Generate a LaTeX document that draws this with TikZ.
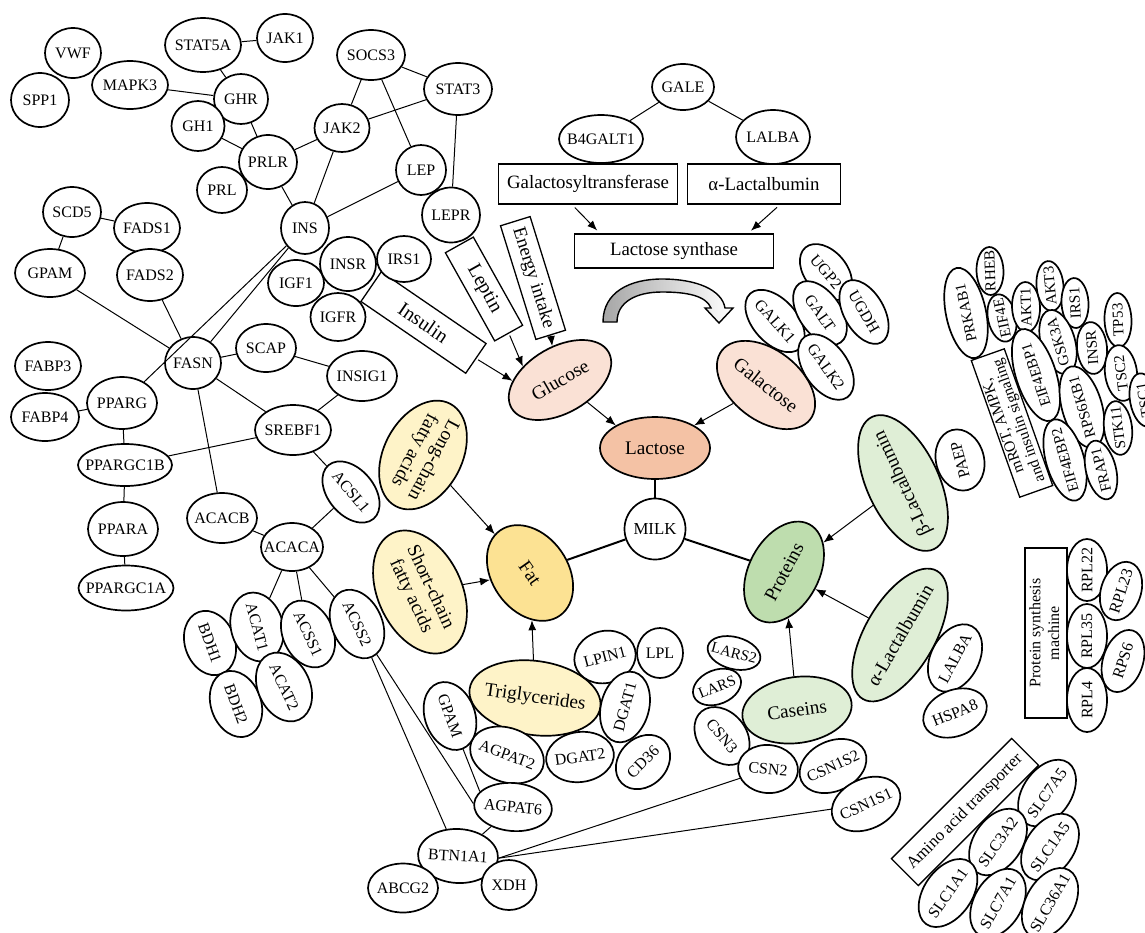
\documentclass[tikz,border=0pt]{standalone}
\usepackage{fontspec}
\setmainfont{Liberation Serif}
\usetikzlibrary{shapes.geometric,arrows.meta}

\definecolor{glc}{HTML}{FAE1D5}
\definecolor{lacc}{HTML}{F4C2A5}
\definecolor{fatc}{HTML}{FCE293}
\definecolor{fac}{HTML}{FEF3C8}
\definecolor{prc}{HTML}{BEDDAE}
\definecolor{prlt}{HTML}{DFEED6}

\tikzset{
  gene/.style={ellipse, draw, line width=0.85pt, fill=white, inner sep=0pt,
    font=\fontsize{8}{9.4}\selectfont},
  big/.style={gene, font=\fontsize{9.6}{10.6}\selectfont},
  small/.style={font=\fontsize{7.6}{9}\selectfont},
  lbl/.style={rectangle, draw, line width=0.65pt, fill=white, inner sep=0pt,
    font=\fontsize{9.4}{11}\selectfont},
  link/.style={line width=0.5pt},
  milklink/.style={line width=1pt},
  arr/.style={line width=0.5pt, -{Latex[length=5pt,width=4pt]}},
}

% ellipse node: [options]{name}{x,y}{semi-axis a}{semi-axis b}{angle}{text}
\newcommand\gnode[7][]{\node[gene,minimum width=#4pt,minimum height=#5pt,rotate=#6,#1] (#2) at (#3) {\makebox[0pt]{#7}};}
% framed label: [options]{name}{x,y}{half width}{half height}{angle}{text}
\newcommand\bxnode[7][]{\node[lbl,minimum width=#4pt,minimum height=#5pt,rotate=#6,#1] (#2) at (#3) {\makebox[0pt]{#7}};}
\newcommand\twoline[1]{\begin{tabular}{@{}c@{}}#1\end{tabular}}

\begin{document}
\begin{tikzpicture}[x=0.5pt,y=-0.5pt]
\useasboundingbox (0,0) rectangle (1145,932);

% ---------- framed labels
\bxnode{galtbox}{588,184}{89.5}{20}{0}{Galactosyltransferase}
\bxnode{alacbox}{764,184}{76.5}{20}{0}{α-Lactalbumin}
\bxnode{lsyn}{674,251}{99.5}{17}{0}{Lactose synthase}
\bxnode[font=\fontsize{10}{12}\selectfont]{insbox}{423.5,322.5}{63.5}{18}{-34.4}{Insulin}
\bxnode[font=\fontsize{10}{12}\selectfont]{lepbox}{484,289}{50.5}{16}{-60.8}{Leptin}
\bxnode{enbox}{533,278}{59.5}{15.5}{-72.7}{Energy intake}
\bxnode[font=\fontsize{8}{9.4}\selectfont]{psmbox}{1046,633}{85}{21}{90}{\twoline{Protein synthesis\\machine}}
\bxnode[font=\fontsize{8.4}{10}\selectfont]{aabox}{965,812}{85}{19}{45}{Amino acid transporter}

% ---------- hormone / receptor network
\gnode{vwf}{73,53}{28}{25}{0}{VWF}
\gnode{spp1}{40,100}{29}{27}{0}{SPP1}
\gnode{stat5a}{203,45}{38}{27}{0}{STAT5A}
\gnode{jak1}{285,38}{28}{24}{0}{JAK1}
\gnode{mapk3}{130,85}{38}{24}{0}{MAPK3}
\gnode{ghr}{241,99}{27}{25}{0}{GHR}
\gnode{gh1}{198,126}{26.5}{25}{0}{GH1}
\gnode{prlr}{268,162}{29}{27}{0}{PRLR}
\gnode{prl}{222,190}{25}{23}{0}{PRL}
\gnode{socs3}{371,55}{34}{25}{0}{SOCS3}
\gnode{stat3}{458,89}{34}{26}{0}{STAT3}
\gnode{jak2}{342,128}{27.5}{24}{0}{JAK2}
\gnode{lep}{421,170}{25}{25}{0}{LEP}
\gnode{lepr}{451,215}{29}{27.5}{0}{LEPR}
\gnode{ins}{305,228}{24}{26}{0}{INS}
\gnode{igf1}{296,283}{28}{23}{0}{IGF1}
\gnode{igfr}{338,317}{27.5}{24}{0}{IGFR}
\gnode{insr}{348,264}{28}{27}{0}{INSR}
\gnode{irs1}{404,259}{27}{23}{0}{IRS1}

% ---------- lipid metabolism network
\gnode{scd5}{72,212}{29}{25}{0}{SCD5}
\gnode{fads1}{147,228}{33}{25}{0}{FADS1}
\gnode{gpam}{50,273}{35}{24}{0}{GPAM}
\gnode{fads2}{150,275}{33}{26}{0}{FADS2}
\gnode{fasn}{193,363}{28}{26}{0}{FASN}
\gnode{scap}{266,348}{30}{24}{0}{SCAP}
\gnode{insig1}{362,376}{35}{25}{0}{INSIG1}
\gnode{srebf1}{293,430}{38}{25}{0}{SREBF1}
\gnode{fabp3}{48,366}{33}{24}{0}{FABP3}
\gnode{fabp4}{45,417}{34}{24}{0}{FABP4}
\gnode{pparg}{122,403}{35}{26}{0}{PPARG}
\gnode{ppargcib}{125,465}{47}{21}{0}{PPARGC1B}
\gnode{ppara}{123,529}{35}{27}{0}{PPARA}
\gnode{ppargcia}{126,588}{47.5}{22.5}{0}{PPARGC1A}
\gnode{acacb}{222,518}{35}{25}{0}{ACACB}
\gnode{acaca}{292,547}{31}{24}{0}{ACACA}
\gnode{acsl1}{351,492}{35}{23}{-50}{ACSL1}
\gnode{bdh1}{210,643}{33}{25}{-70}{BDH1}
\gnode{acat1}{257,627}{35}{26}{-75}{ACAT1}
\gnode{acss1}{308,634}{35}{25}{-65}{ACSS1}
\gnode{acss2}{357,624}{36}{25}{-65}{ACSS2}
\gnode{bdh2}{236,704}{34}{25}{-70}{BDH2}
\gnode{acat2}{284,687}{36}{26}{-65}{ACAT2}

% ---------- fat
\gnode[big,fill=fac]{longfa}{423,455}{58}{39}{-118}{\twoline{Long-chain\\fatty acids}}
\gnode[big,fill=fac]{shortfa}{420,592}{65}{42}{-65}{\twoline{Short-chain\\fatty acids}}
\gnode[big,fill=fatc]{fat}{530,573}{52}{38}{-55}{Fat}
\gnode[big,fill=fac]{tg}{535,698}{66}{37}{-8}{Triglycerides}
\gnode{lpin1}{605,657}{31}{26}{15}{LPIN1}
\gnode{lpl}{660,653}{23}{25}{0}{LPL}
\gnode{dgat1}{625,707}{36}{24}{75}{DGAT1}
\gnode{cd36}{643,762}{30}{24}{45}{CD36}
\gnode{dgat2}{580,757}{34}{25}{8}{DGAT2}
\gnode{agpat2}{507,755}{38}{27}{-20}{AGPAT2}
\gnode{gpamb}{450,716}{35}{25}{-70}{GPAM}
\gnode{agpat6}{513,807}{39}{24}{-5}{AGPAT6}
\gnode{btn1a1}{458,856}{40}{27}{-3}{BTN1A1}
\gnode{xdh}{509,885}{27.5}{25}{0}{XDH}
\gnode{abcg2}{403,888}{35}{24.5}{0}{ABCG2}

% ---------- lactose
\gnode{gale}{683,87}{31}{23}{0}{GALE}
\gnode{b4galt1}{601,139}{42}{24}{0}{B4GALT1}
\gnode{lalba}{773,137}{37}{27}{0}{LALBA}
\gnode[big,fill=lacc]{lactose}{655,448}{55}{31}{0}{Lactose}
\gnode[font=\fontsize{8.4}{10}\selectfont]{milk}{655,529}{30.5}{30.5}{0}{MILK}
\gnode[big,fill=glc]{glucose}{560,380}{56}{33}{30}{Glucose}
\gnode[big,fill=glc]{galactose}{766,385}{56}{35}{-38}{Galactose}
\gnode{ugp2}{826,272}{32}{21}{-50}{UGP2}
\gnode{galk1}{775,321}{37}{22}{-48}{GALK1}
\gnode{galt}{820,313}{36}{21}{-55}{GALT}
\gnode{ugdh}{864,312}{35}{20}{-60}{UGDH}
\gnode{galk2}{826,367}{37}{22}{-55}{GALK2}

% conversion arrow between glucose and galactose
\draw[line width=0.7pt, left color=black!35, right color=white]
  (603,322) .. controls (603,292) and (630,279) .. (662,279)
  .. controls (697,279) and (722,290) .. (725,308)
  -- (733,308) -- (719,323) -- (705,308) -- (711,308)
  .. controls (706,296) and (688,292) .. (662,292)
  .. controls (636,292) and (617,302) .. (617,322) -- cycle;

% ---------- proteins
\gnode[big,fill=prc]{proteins}{784,572}{54}{35}{62}{Proteins}
\gnode[big,fill=prlt]{caseins}{797,710}{55}{33}{8}{Caseins}
\gnode[big,fill=prlt]{blac}{903,483}{73}{36}{115}{β-Lactalbumin}
\gnode[big,fill=prlt]{alac}{900,635}{74}{35}{60}{α-Lactalbumin}
\gnode{paep}{960,460}{31}{24}{105}{PAEP}
\gnode{lalbab}{955,658}{36}{24}{62}{LALBA}
\gnode{hspa8}{955,713}{33}{23}{22}{HSPA8}
\gnode{csn3}{722,736}{32}{24}{-50}{CSN3}
\gnode[small]{lars}{717,687}{25}{17}{22}{LARS}
\gnode[small]{lars2}{734,653}{27}{16}{-15}{LARS2}
\gnode{csn2}{768,769}{30}{24}{-5}{CSN2}
\gnode{csn1s2}{833,766}{35}{25}{25}{CSN1S2}
\gnode{csn1s1}{866,804}{36}{25}{25}{CSN1S1}

% ---------- mTOR / AMPK / insulin signalling
\gnode[small]{prkab1}{966,313}{46}{20}{102}{PRKAB1}
\gnode[small]{rheb}{990,271}{24}{13.5}{92}{RHEB}
\gnode[small]{eif4e}{1002,318}{24}{14}{102}{EIF4E}
\gnode[small]{akt1}{1026,307}{25}{14}{92}{AKT1}
\gnode[small]{akt3}{1050,286}{25}{13.5}{95}{AKT3}
\gnode[small]{irs1b}{1075,303}{25}{13.5}{93}{IRS1}
\gnode[small]{gsk3a}{1058,342}{33}{17}{106}{GSK3A}
\gnode[small]{insrb}{1092,348}{26}{15}{95}{INSR}
\gnode[small]{tp53}{1118,320}{27}{13.5}{92}{TP53}
\gnode[small]{eif4ebp1}{1036,375}{48}{20}{108}{EIF4EBP1}
\gnode[small]{tsc2}{1121,373}{28}{16}{97}{TSC2}
\gnode[small]{tsc1}{1144,400}{27}{14}{100}{TSC1}
\gnode[small]{rps6kb1}{1082,407}{42}{20}{106}{RPS6KB1}
\gnode[small]{stk11}{1118,428}{27}{14}{97}{STK11}
\gnode[small]{eif4ebp2}{1065,460}{42}{19}{106}{EIF4EBP2}
\gnode[small]{frap1}{1101,470}{30}{15}{104}{FRAP1}
\bxnode[font=\fontsize{7.8}{8.4}\selectfont]{mtorbox}{1012,423}{72.5}{17.5}{109.5}{\twoline{mROT, AMPK,\\and insulin signaling}}

% ---------- protein synthesis machinery
\gnode{rpl22}{1087,570}{31}{20}{90}{RPL22}
\gnode{rpl23}{1121,591}{30}{20}{72}{RPL23}
\gnode{rpl35}{1087,636}{32}{20}{90}{RPL35}
\gnode{rps6}{1123,661}{32}{20}{72}{RPS6}
\gnode{rpl4}{1087,700}{32}{20}{90}{RPL4}

% ---------- amino acid transporters
\gnode{slc7a5}{1047,793}{37}{24}{55}{SLC7A5}
\gnode{slc3a2}{998,842}{37}{24}{55}{SLC3A2}
\gnode{slc1a5}{1050,847}{37}{24}{55}{SLC1A5}
\gnode{slc1a1}{948,893}{38}{24}{55}{SLC1A1}
\gnode{slc7a1}{998,903}{37}{24}{60}{SLC7A1}
\gnode{slc36a1}{1050,903}{38}{24}{60}{SLC36A1}

% ---------- interactions
\draw[link] (stat5a) -- (jak1);
\draw[link] (stat5a) -- (ghr);
\draw[link] (mapk3) -- (ghr);
\draw[link] (ghr) -- (prlr);
\draw[link] (gh1) -- (prlr);
\draw[link] (prlr) -- (jak2);
\draw[link] (prlr) -- (ins);
\draw[link] (jak2) -- (socs3);
\draw[link] (jak2) -- (stat3);
\draw[link] (socs3) -- (stat3);
\draw[link] (socs3) -- (lep);
\draw[link] (stat3) -- (lepr);
\draw[link] (jak2) -- (ins);
\draw[link] (ins) -- (lep);
\draw[link] (scd5) -- (fads1);
\draw[link] (scd5) -- (gpam);
\draw[link] (gpam) -- (fasn);
\draw[link] (fads2) -- (fasn);
\draw[link] (fasn) -- (ins);
\draw[link] (ins) -- (pparg);
\draw[link] (fasn) -- (scap);
\draw[link] (scap) -- (insig1);
\draw[link] (insig1) -- (srebf1);
\draw[link] (fasn) -- (srebf1);
\draw[link] (fasn) -- (acacb);
\draw[link] (srebf1) -- (ppargcib);
\draw[link] (srebf1) -- (acsl1);
\draw[link] (acsl1) -- (acaca);
\draw[link] (acacb) -- (acaca);
\draw[link] (pparg) -- (fabp4);
\draw[link] (pparg) -- (ppargcib);
\draw[link] (ppargcib) -- (ppara);
\draw[link] (ppara) -- (ppargcia);
\draw[link] (acaca) -- (acat1);
\draw[link] (acaca) -- (acss1);
\draw[link] (acaca) -- (acss2);
\draw[link] (acss2) -- (btn1a1);
\draw[link] (acss2) -- (agpat6.west);
\draw[link] (gpamb) -- (agpat6.160);
\draw[link] (agpat6) -- (btn1a1);
\draw[link] (btn1a1.east) -- (csn2);
\draw[link] (btn1a1.east) -- (csn1s1);
\draw[link] (gale) -- (b4galt1);
\draw[link] (gale) -- (lalba);

% ---------- pathways towards milk
\draw[arr, shorten <=2pt, shorten >=2pt] ([xshift=-8pt]galtbox.south) -- ([xshift=-37pt]lsyn.north);
\draw[arr, shorten <=2pt, shorten >=2pt] ([xshift=8pt]alacbox.south) -- ([xshift=37pt]lsyn.north);
\draw[arr, shorten <=1pt] (insbox.east) -- (glucose.151);
\draw[arr, shorten <=1pt] (lepbox.east) -- (glucose.130);
\draw[arr] (enbox.east) -- (glucose.73);
\draw[arr] (glucose) -- (lactose.150);
\draw[arr] (galactose) -- (lactose.30);
\draw[milklink] (lactose) -- (milk);
\draw[milklink] (milk) -- (fat);
\draw[milklink] (milk) -- (proteins);
\draw[arr] (longfa) -- (fat);
\draw[arr] (shortfa) -- (fat);
\draw[arr] (tg) -- (fat);
\draw[arr] (blac) -- (proteins);
\draw[arr] (alac) -- (proteins);
\draw[arr] (caseins) -- (proteins);
\end{tikzpicture}
\end{document}
